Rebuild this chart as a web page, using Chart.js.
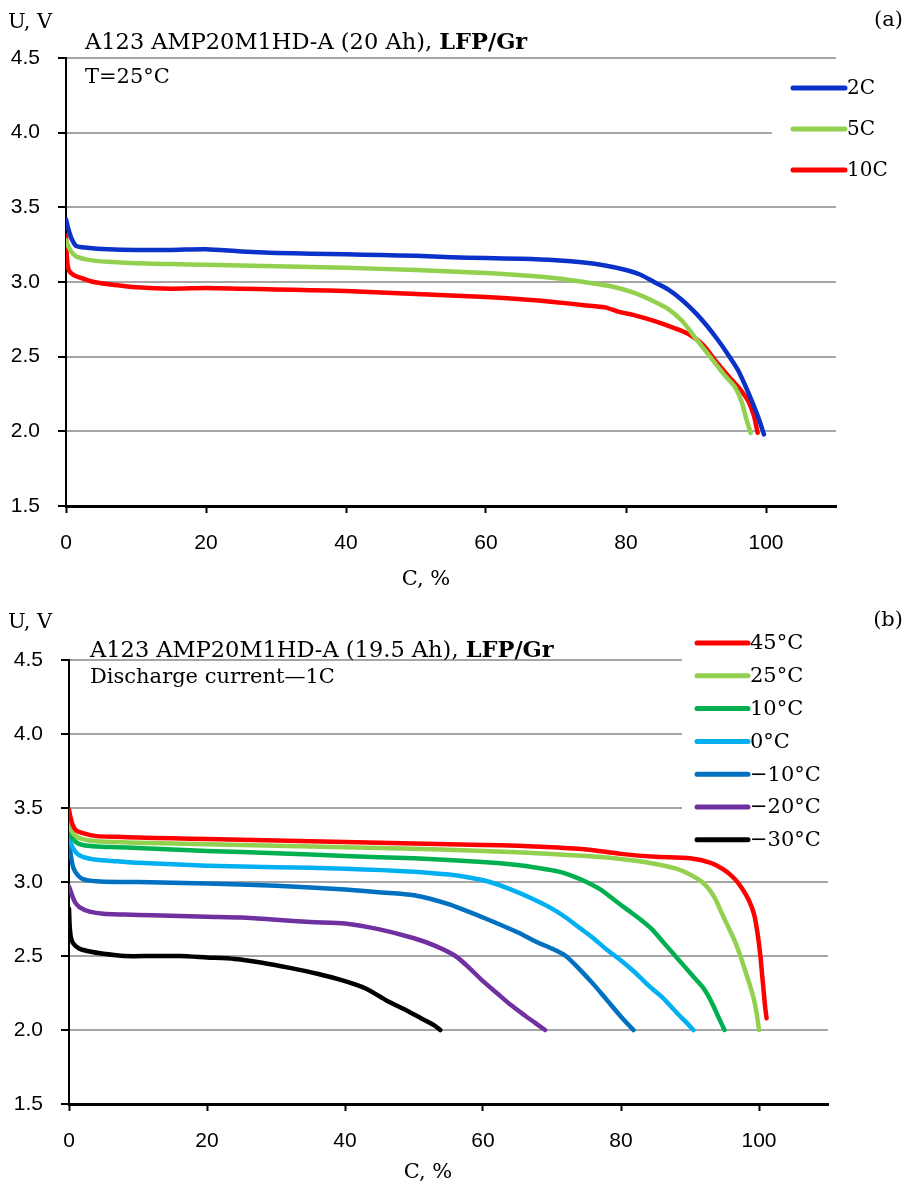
<!DOCTYPE html>
<html>
<head>
<meta charset="utf-8">
<script src="https://cdn.jsdelivr.net/npm/chart.js@4.4.0/dist/chart.umd.min.js"></script>
<style>
  body { margin: 0; background: #fff; }
  .panel { position: relative; width: 911px; }
  #panelA { height: 596px; }
  #panelB { height: 595px; }
</style>
</head>
<body>
<div class="panel" id="panelA"><canvas id="chartA"></canvas></div>
<div class="panel" id="panelB"><canvas id="chartB"></canvas></div>
<script>
// ---- (a) discharge at different C-rates, T = 25 °C ----
const capA2C = [0, 0.3, 0.8, 1.5, 3, 6, 10, 15, 20, 25, 30, 35, 40, 45, 50, 55, 60, 65, 70, 74, 77, 80, 82, 84, 86, 88, 90, 91.5, 93, 94.5, 96, 97, 98, 99, 99.7];
const uA2C = [3.42, 3.36, 3.29, 3.24, 3.23, 3.22, 3.215, 3.215, 3.22, 3.205, 3.195, 3.19, 3.185, 3.18, 3.175, 3.165, 3.16, 3.155, 3.145, 3.13, 3.11, 3.08, 3.05, 3.0, 2.95, 2.88, 2.79, 2.71, 2.62, 2.52, 2.41, 2.31, 2.2, 2.08, 1.98];
const capA5C = [0, 0.3, 0.8, 1.5, 3, 6, 10, 15, 20, 30, 40, 50, 55, 60, 65, 70, 74, 78, 81, 84, 86, 88, 90, 92, 94, 95.5, 96.5, 97.2, 97.8];
const uA5C = [3.28, 3.24, 3.2, 3.17, 3.15, 3.135, 3.125, 3.12, 3.115, 3.105, 3.095, 3.08, 3.07, 3.06, 3.045, 3.025, 3.0, 2.97, 2.93, 2.87, 2.82, 2.74, 2.62, 2.5, 2.38, 2.3, 2.2, 2.08, 1.99];
const capA10C = [0, 0.15, 0.4, 1, 2, 4, 7, 10, 15, 20, 25, 30, 35, 40, 45, 50, 55, 60, 65, 70, 74, 77, 79, 81, 84, 87, 89, 91, 93, 95, 96.5, 97.5, 98.3, 98.8];
const uA10C = [3.31, 3.15, 3.08, 3.05, 3.03, 3.0, 2.98, 2.965, 2.955, 2.96, 2.955, 2.95, 2.945, 2.94, 2.93, 2.92, 2.91, 2.9, 2.885, 2.865, 2.845, 2.83, 2.8, 2.78, 2.74, 2.69, 2.65, 2.58, 2.46, 2.35, 2.27, 2.2, 2.1, 1.99];
const labelsA = ['2C', '5C', '10C'];
const colorsA = ['#0a32c8', '#92d050', '#ff0000'];

// ---- (b) discharge at 1C, different temperatures ----
const capB45 = [0, 0.2, 0.5, 1, 2, 4, 7, 10, 15, 20, 30, 40, 50, 60, 65, 70, 75, 80, 85, 90, 93, 95, 96.5, 97.5, 98.5, 99.3, 99.8, 100.2, 100.5, 100.7, 100.9, 101.1];
const uB45 = [3.49, 3.44, 3.39, 3.35, 3.33, 3.31, 3.305, 3.3, 3.295, 3.29, 3.28, 3.27, 3.26, 3.25, 3.245, 3.235, 3.22, 3.19, 3.17, 3.16, 3.13, 3.08, 3.02, 2.96, 2.88, 2.78, 2.65, 2.5, 2.35, 2.25, 2.15, 2.08];
const capB25 = [0, 0.3, 1, 2, 4, 7, 10, 20, 30, 40, 50, 60, 70, 75, 80, 84, 88, 90, 92, 93.5, 94.5, 95.5, 96.5, 97.3, 98, 98.7, 99.3, 99.7, 100];
const uB25 = [3.43, 3.35, 3.31, 3.29, 3.275, 3.27, 3.265, 3.255, 3.245, 3.235, 3.225, 3.21, 3.19, 3.175, 3.155, 3.13, 3.09, 3.05, 2.99, 2.9, 2.8, 2.7, 2.6, 2.5, 2.4, 2.3, 2.2, 2.1, 2.0];
const capB10 = [0, 0.3, 1, 2, 4, 7, 10, 20, 30, 40, 50, 60, 65, 68, 71, 73, 75, 77, 79, 81, 83, 84.5, 86, 87.5, 89, 90.5, 92, 93, 94, 95];
const uB10 = [3.4, 3.32, 3.27, 3.25, 3.24, 3.235, 3.23, 3.21, 3.195, 3.175, 3.16, 3.135, 3.115, 3.095, 3.07, 3.04, 3.0, 2.95, 2.88, 2.81, 2.74, 2.68, 2.6, 2.52, 2.44, 2.36, 2.28, 2.2, 2.1, 2.0];
const capB0 = [0, 0.3, 1, 2, 4, 7, 10, 20, 30, 40, 50, 55, 58, 61, 64, 67, 70, 72, 74, 76, 78, 80, 82, 84, 86, 88, 89.5, 90.5];
const uB0 = [3.36, 3.26, 3.2, 3.17, 3.15, 3.14, 3.13, 3.11, 3.1, 3.09, 3.07, 3.05, 3.03, 3.0, 2.95, 2.89, 2.82, 2.76, 2.69, 2.62, 2.54, 2.47, 2.39, 2.3, 2.22, 2.12, 2.05, 2.0];
const capBm10 = [0, 0.2, 0.6, 1.2, 2, 4, 7, 10, 20, 30, 40, 45, 50, 55, 60, 65, 68, 70, 72, 74, 76, 78, 80, 81.8];
const uBm10 = [3.3, 3.2, 3.1, 3.05, 3.02, 3.005, 3.0, 3.0, 2.99, 2.975, 2.95, 2.93, 2.91, 2.85, 2.76, 2.66, 2.59, 2.55, 2.5, 2.41, 2.31, 2.2, 2.09, 2.0];
const capBm20 = [0, 0.3, 0.8, 1.5, 3, 5, 8, 12, 20, 25, 30, 35, 40, 45, 50, 53, 56, 58, 60, 62, 64, 66, 67.5, 69];
const uBm20 = [2.97, 2.93, 2.87, 2.83, 2.8, 2.785, 2.78, 2.775, 2.765, 2.76, 2.745, 2.73, 2.72, 2.68, 2.62, 2.57, 2.5, 2.42, 2.33, 2.25, 2.17, 2.1, 2.05, 2.0];
const capBm30 = [0, 0.1, 0.3, 0.7, 1.5, 3, 5, 8, 12, 16, 20, 24, 28, 32, 36, 40, 43, 46, 49, 51, 53, 53.8];
const uBm30 = [2.82, 2.7, 2.62, 2.58, 2.55, 2.53, 2.515, 2.5, 2.5, 2.5, 2.49, 2.48, 2.455, 2.42, 2.38, 2.33, 2.28, 2.2, 2.13, 2.08, 2.03, 2.0];
const labelsB = ['45°C', '25°C', '10°C', '0°C', '−10°C', '−20°C', '−30°C'];
const colorsB = ['#ff0000', '#92d050', '#00b050', '#00b0f0', '#0070c0', '#7030a0', '#000000'];

const xTicks = [0, 20, 40, 60, 80, 100];
const yTicks = [1.5, 2.0, 2.5, 3.0, 3.5, 4.0, 4.5];

const serif = '"DejaVu Serif", serif';
const sans = '"Liberation Sans", Arial, sans-serif';

function toPoints(xs, ys) {
    return xs.map((x, i) => ({ x: x, y: ys[i] }));
}

function makeDatasets(caps, volts, labels, colors) {
    return caps.map((c, i) => ({
        label: labels[i],
        data: toPoints(c, volts[i]),
        borderColor: colors[i],
        backgroundColor: colors[i],
        borderWidth: 4.5,
        pointRadius: 0,
        tension: 0.25,
        borderCapStyle: 'round',
        borderJoinStyle: 'round',
        fill: false
    }));
}

// white box behind the in-plot legend (hides the grid, but not the curves)
// then the legend entries and the free texts on top
const annotate = {
    id: 'annotate',
    beforeDatasetsDraw(chart, args, o) {
        const ctx = chart.ctx;
        ctx.save();
        ctx.fillStyle = '#fff';
        ctx.fillRect(o.box[0], o.box[1], o.box[2], o.box[3]);
        ctx.restore();
    },
    afterDraw(chart, args, o) {
        const ctx = chart.ctx;
        ctx.save();
        ctx.font = `${o.legendSize}px ${serif}`;
        ctx.textBaseline = 'middle';
        ctx.textAlign = 'left';
        chart.data.datasets.forEach((ds, i) => {
            const y = o.legendY + i * o.legendStep;
            ctx.strokeStyle = ds.borderColor;
            ctx.lineWidth = 5;
            ctx.lineCap = 'round';
            ctx.beginPath();
            ctx.moveTo(o.legendX, y);
            ctx.lineTo(o.legendX + o.legendLen, y);
            ctx.stroke();
            ctx.fillStyle = '#000';
            ctx.fillText(ds.label, o.legendX + o.legendLen + 2, y + 1);
        });

        ctx.textBaseline = 'alphabetic';
        ctx.fillStyle = '#000';
        ctx.font = `21px ${serif}`;
        ctx.fillText('U, V', 8, o.unitY);
        ctx.textAlign = 'right';
        ctx.fillText(o.tag, 903, o.unitY - 2);
        ctx.textAlign = 'center';
        ctx.fillText('C, %', o.axisTitleX, o.axisTitleY);

        ctx.textAlign = 'left';
        ctx.font = `${o.titleSize}px ${serif}`;
        ctx.fillText(o.title, o.titleX, o.titleY);
        const w = ctx.measureText(o.title).width;
        ctx.font = `bold ${o.titleSize}px ${serif}`;
        ctx.fillText('LFP/Gr', o.titleX + w, o.titleY);
        ctx.font = `21px ${serif}`;
        ctx.fillText(o.subtitle, o.titleX, o.subtitleY);
        ctx.restore();
    }
};

function makeOptions(pad, yWidth, xHeight, annot) {
    return {
        responsive: true,
        maintainAspectRatio: false,
        animation: false,
        layout: { padding: pad },
        plugins: {
            legend: { display: false },
            tooltip: { enabled: false },
            annotate: annot
        },
        scales: {
            x: {
                type: 'linear',
                min: 0,
                max: 110,
                afterFit: s => { s.height = xHeight; },
                afterBuildTicks: s => { s.ticks = xTicks.map(v => ({ value: v })); },
                ticks: { color: '#000', padding: 18, font: { family: sans, size: 21 } },
                grid: { drawOnChartArea: false, drawTicks: true, tickLength: 7, tickWidth: 2, tickColor: '#000' },
                border: { color: '#000', width: 3 }
            },
            y: {
                type: 'linear',
                min: 1.5,
                max: 4.5,
                afterFit: s => { s.width = yWidth; },
                afterBuildTicks: s => { s.ticks = yTicks.map(v => ({ value: v })); },
                ticks: { color: '#000', padding: 18, font: { family: sans, size: 21 }, callback: v => v.toFixed(1) },
                grid: { color: '#a6a6a6', lineWidth: 2, tickLength: 8, tickWidth: 2, tickColor: '#000', z: -1 },
                border: { color: '#000', width: 2 }
            }
        }
    };
}

new Chart(document.getElementById('chartA'), {
    type: 'line',
    data: { datasets: makeDatasets([capA2C, capA5C, capA10C], [uA2C, uA5C, uA10C], labelsA, colorsA) },
    options: makeOptions({ top: 58, right: 75, left: 0, bottom: 0 }, 66, 90, {
        box: [772, 70, 139, 120],
        legendX: 793, legendY: 88, legendStep: 41, legendLen: 52, legendSize: 20,
        unitY: 28, tag: '(a)', axisTitleX: 426, axisTitleY: 585,
        title: 'A123 AMP20M1HD-A (20 Ah), ', subtitle: 'T=25°C',
        titleX: 85, titleY: 49, subtitleY: 83, titleSize: 22.5
    }),
    plugins: [annotate]
});

new Chart(document.getElementById('chartB'), {
    type: 'line',
    data: {
        datasets: makeDatasets(
            [capB45, capB25, capB10, capB0, capBm10, capBm20, capBm30],
            [uB45, uB25, uB10, uB0, uBm10, uBm20, uBm30], labelsB, colorsB)
    },
    options: makeOptions({ top: 64, right: 83, left: 0, bottom: 0 }, 69, 87, {
        box: [682, 30, 229, 224],
        legendX: 697, legendY: 47, legendStep: 32.8, legendLen: 51, legendSize: 21,
        unitY: 32, tag: '(b)', axisTitleX: 428, axisTitleY: 582,
        title: 'A123 AMP20M1HD-A (19.5 Ah), ', subtitle: 'Discharge current—1C',
        titleX: 90, titleY: 61, subtitleY: 87, titleSize: 22.5
    }),
    plugins: [annotate]
});
</script>
</body>
</html>
